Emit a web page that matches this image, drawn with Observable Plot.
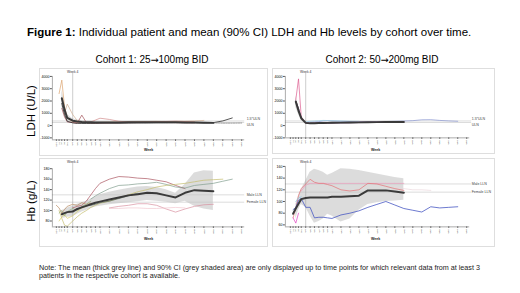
<!DOCTYPE html>
<html><head><meta charset="utf-8">
<script src="https://cdn.jsdelivr.net/npm/d3@7"></script>
<script src="https://cdn.jsdelivr.net/npm/@observablehq/plot@0.6"></script>
<style>
body{margin:0;background:#fff;font-family:"Liberation Sans",Arial,sans-serif;color:#000;}
#root{position:relative;width:520px;height:293px;overflow:hidden;background:#fff;}
.t{position:absolute;white-space:nowrap;}
.arr{font-family:"DejaVu Sans",sans-serif;font-size:0.95em;}
.panel{position:absolute;border:1px solid #dedede;box-sizing:border-box;overflow:visible;}
.panel svg{position:absolute;left:-1px;top:-1px;overflow:visible;}
.ylab{position:absolute;transform:translate(-50%,-50%) rotate(-90deg);font-size:11.5px;white-space:nowrap;}
</style>
</head><body>
<div id="root">
  <div class="t" style="left:27px;top:26px;font-size:11.5px;"><b>Figure 1:</b> Individual patient and mean (90% CI) LDH and Hb levels by cohort over time.</div>
  <div class="t" style="left:152px;top:54px;font-size:10px;transform:translateX(-50%);">Cohort 1: 25<span class="arr">→</span>100mg BID</div>
  <div class="t" style="left:382px;top:54px;font-size:10px;transform:translateX(-50%);">Cohort 2: 50<span class="arr">→</span>200mg BID</div>
  <div class="ylab" style="left:31px;top:111px;">LDH (U/L)</div>
  <div class="ylab" style="left:31px;top:201px;">Hb (g/L)</div>
  <div class="panel" id="p1" style="left:39px;top:68px;width:229px;height:88px;"></div>
  <div class="panel" id="p2" style="left:272px;top:68px;width:223px;height:86px;"></div>
  <div class="panel" id="p3" style="left:39px;top:158px;width:229px;height:89px;"></div>
  <div class="panel" id="p4" style="left:272px;top:158px;width:223px;height:89px;"></div>
  <div class="t" style="left:39px;top:264px;font-size:7.2px;line-height:7.5px;color:#222;">Note: The mean (thick grey line) and 90% CI (grey shaded area) are only displayed up to time points for which relevant data from at least 3<br>patients in the respective cohort is available.</div>
</div>
<script>
// ---- visit categories (x axis) ----
const visits = ["SCR","D1","D2","D8","D15","W4","W5","W6","W7","W8","W9","W10","W12","W16","W20","W24","W28","W32","W36","W40","W44","W48","W52","W56","W60","W64","W68"];

// ---- reference levels ----
const ldhRefs = [{label:"1.5*ULN", v:375, dy:-2.5}, {label:"ULN", v:250, dy:2.5}];
const hbRefs = [{label:"Male LLN", v:130, dy:0}, {label:"Female LLN", v:116, dy:0}];

// ---- Cohort 1 LDH ----
const c1LdhMean = [null,null,2230,1300,620,400,330,300,280,270,260,250,250,260,270,280,280,280,270,270,260,250,230,220,null,null,null];
const c1LdhLo   = [null,null,1500,800,350,250,220,210,200,200,190,180,180,190,200,210,210,200,200,190,190,180,170,170,null,null,null];
const c1LdhHi   = [null,null,2900,1900,900,560,450,420,400,380,360,340,340,350,360,370,370,370,360,350,340,330,300,280,null,null,null];
const c1LdhA = [null,2600,3700,1500,600,300,280,260,250,240,250,260,270,280,300,320,330,340,330,320,310,300,null,null,null,null,null];
const c1LdhB = [null,null,null,1000,1750,900,400,300,260,250,240,250,260,270,290,300,310,320,330,340,360,380,420,null,null,null,null];
const c1LdhC = [null,null,1400,700,300,250,200,850,250,200,190,200,210,220,230,240,250,260,250,240,230,220,null,null,null,null,null];
const c1LdhD = [null,null,null,null,null,250,230,240,260,300,450,600,500,350,300,280,300,320,340,360,330,300,null,null,null,null,null];
const c1LdhE = [null,null,1800,900,350,220,180,170,170,180,190,200,210,210,220,230,230,240,240,250,260,250,240,240,380,620,null];
const c1LdhF = [null,null,null,null,null,null,null,null,null,null,null,null,200,210,210,220,220,230,230,230,220,220,220,220,200,200,210];

// ---- Cohort 2 LDH ----
const c2LdhMean = [null,null,1950,1200,600,220,180,190,200,210,220,230,240,250,260,270,280,290,300,300,null,null,null,null,null,null,null];
const c2LdhLo   = [null,null,1500,900,420,150,130,140,150,160,170,180,190,200,210,220,230,240,250,250,null,null,null,null,null,null,null];
const c2LdhHi   = [null,null,2400,1500,800,300,240,250,260,270,280,290,300,310,320,330,340,350,350,350,null,null,null,null,null,null,null];
const c2LdhA = [null,null,2100,3800,700,200,190,200,210,220,230,240,250,260,270,270,280,280,290,290,null,null,null,null,null,null,null];
const c2LdhB = [null,null,2000,1400,600,220,180,180,190,200,200,210,220,230,240,250,250,260,270,280,null,null,null,null,null,null,null];
const c2LdhC = [null,null,null,null,null,250,280,300,320,380,400,380,350,330,320,310,320,330,350,370,400,470,480,420,380,350,null];
const c2LdhD = [null,null,null,null,null,300,350,380,400,420,410,400,380,360,350,null,null,null,null,null,null,null,null,null,null,null,null];

// ---- Cohort 1 Hb ----
const c1HbMean = [null,null,93,95,97,98,103,106,109,112,115,117,121,125,129,131,134,133,129,125,134,139,138,137,null,null,null];
const c1HbLo   = [null,null,85,86,87,88,93,97,100,104,107,108,111,113,115,117,119,118,116,113,118,108,103,100,null,null,null];
const c1HbHi   = [null,null,100,102,105,108,112,115,118,122,126,130,135,139,142,145,146,144,140,133,150,172,176,175,null,null,null];
const c1HbA = [null,null,null,null,null,105,108,110,118,130,142,152,160,165,164,162,161,158,155,148,142,null,null,null,null,null,null];
const c1HbB = [null,null,null,null,null,null,null,null,null,122,128,133,142,148,149,151,152,154,150,145,143,148,150,152,156,160,null];
const c1HbC = [null,100,85,72,70,80,88,95,100,106,110,114,118,124,130,136,140,145,148,150,152,155,158,159,160,null,null];
const c1HbD = [null,null,null,null,null,null,null,null,null,null,null,null,105,108,110,113,113,110,103,97,103,108,111,112,null,null,null];
const c1HbE = [null,null,null,null,null,null,null,107,109,110,112,115,118,123,128,133,null,null,null,null,null,null,null,null,null,null,null];
const c1HbF = [null,null,null,null,null,null,null,null,null,null,null,null,104,104,105,105,104,104,105,106,105,null,null,null,null,null,null];
const c1HbG = [110,105,95,102,108,112,110,115,112,114,null,null,null,null,null,null,null,null,null,null,null,null,null,null,null,null,null];
const c1HbH = [null,80,88,92,85,90,98,105,108,null,null,null,null,null,null,null,null,null,null,null,null,null,null,null,null,null,null];
const c1HbI = [null,95,100,90,98,104,100,108,112,118,null,null,null,null,null,null,null,null,null,null,null,null,null,null,null,null,null];

// ---- Cohort 2 Hb ----
const c2HbMean = [null,79,88,96,104,106,107,107,107,107,107,108,108,109,110,119,119,119,117,115,null,null,null,null,null,null,null];
const c2HbLo   = [null,null,70,85,95,90,75,63,66,70,78,75,65,70,85,95,98,100,101,102,null,null,null,null,null,null,null];
const c2HbHi   = [null,null,95,110,120,135,150,155,153,150,145,148,156,155,153,150,147,144,141,139,null,null,null,null,null,null,null];
const c2HbA = [null,72,88,110,122,130,138,133,131,131,129,127,120,118,120,131,130,126,122,119,null,null,null,null,null,null,null];
const c2HbB = [null,null,null,null,118,128,131,131,131,131,131,131,131,131,131,131,131,131,131,131,null,null,null,null,null,null,null];
const c2HbC = [null,86,90,102,105,90,90,72,73,73,72,71,77,80,84,90,95,100,94,88,85,82,91,89,90,91,null];
const c2HbD = [null,72,63,80,null,null,null,null,null,null,null,null,null,null,null,null,null,null,null,null,null,null,null,null,null,null,null];
const c2HbE = [null,null,100,106,108,null,null,null,null,null,null,null,null,null,null,null,null,null,null,null,null,null,null,null,null,null,null];
const c2HbF = [null,null,null,null,null,null,null,null,null,null,null,null,null,null,null,null,null,null,125,122,120,120,119,null,null,null,null];

const xDom = [0,4,5,11,26];

function makePanel(el, cfg) {
  const {width, height, mL, mB, xRange, yDomain, yRange, yTicks, lo, hi, mean, lines, refs, refLabelX} = cfg;
  const px2i = d3.scaleLinear(xRange, xDom);
  const py2v = d3.scaleLinear(yRange, yDomain);
  const axisVal = py2v(height - mB);
  const axisI = px2i(mL);
  const endI = px2i(xRange[xRange.length-1] + 3);
  const idx = visits.map((_, i) => i);
  const marks = [];
  const band = idx.map(i => ({i, lo: lo[i], hi: hi[i]})).filter(d => d.lo != null && d.hi != null);
  marks.push(Plot.areaY(band, {x: "i", y1: "lo", y2: "hi", fill: "#d6d6d6", fillOpacity: 0.85}));
  for (const r of refs) {
    marks.push(Plot.ruleY([r.v], {x1: axisI, x2: px2i(width - 22), stroke: "#c4c4c4", strokeWidth: 0.6}));
    marks.push(Plot.text([r.label], {x: px2i(refLabelX), y: r.v, dy: r.dy, text: d => d, textAnchor: "start", fontSize: 3.6, fill: "#444"}));
  }
  marks.push(Plot.ruleX([5], {y1: axisVal, y2: py2v(5), stroke: "#9a9a9a", strokeWidth: 0.5}));
  marks.push(Plot.text(["Week 4"], {x: 5, y: py2v(3), text: d => d, fontSize: 3.4, fill: "#333"}));
  for (const l of lines) {
    marks.push(Plot.line(idx.map(i => ({i, v: l.values[i]})), {x: "i", y: "v", stroke: l.color, strokeWidth: l.w || 0.7, strokeDasharray: l.dash}));
  }
  marks.push(Plot.line(idx.map(i => ({i, v: mean[i]})), {x: "i", y: "v", stroke: "#3a3a3a", strokeWidth: 2}));
  marks.push(Plot.ruleY([axisVal], {x1: axisI, x2: endI, stroke: "#555", strokeWidth: 0.5}));
  marks.push(Plot.ruleX([axisI], {y1: axisVal, y2: yTicks[yTicks.length-1], stroke: "#555", strokeWidth: 0.5}));
  marks.push(Plot.axisY({ticks: yTicks, tickFormat: d => String(d), tickSize: 2, tickPadding: 1, fontSize: 3.6, label: null, stroke: "#555"}));
  marks.push(Plot.axisX({ticks: idx, tickFormat: i => visits[i], tickSize: 1.5, tickPadding: 1, tickRotate: -90, fontSize: 2.1, label: null, stroke: "#555", fill: "#444"}));
  marks.push(Plot.text(["Week"], {x: px2i(cfg.weekX), y: py2v(height - cfg.weekDy), text: d => d, fontSize: 3.6, fontWeight: "bold", fill: "#222"}));
  const svg = Plot.plot({
    width, height,
    marginLeft: mL, marginBottom: mB, marginTop: 4, marginRight: 4,
    x: {type: "linear", domain: xDom, range: xRange},
    y: {type: "linear", domain: yDomain, range: yRange},
    style: {background: "transparent", fontFamily: "Liberation Sans, Arial, sans-serif", overflow: "visible"},
    marks
  });
  document.getElementById(el).appendChild(svg);
}

const ldhTicks = [-1000,0,1000,2000,3000,4000];

makePanel("p1", {width: 229, height: 88, mL: 13, mB: 16, xRange: [17,28,33.5,61,204], yDomain: [-1000,4000], yRange: [70,8],
  yTicks: ldhTicks, lo: c1LdhLo, hi: c1LdhHi, mean: c1LdhMean, refs: ldhRefs, refLabelX: 209, weekX: 110, weekDy: 6,
  lines: [
    {values: c1LdhA, color: "#dca36e"},
    {values: c1LdhB, color: "#cfae93"},
    {values: c1LdhC, color: "#a4525a"},
    {values: c1LdhD, color: "#d08a8a"},
    {values: c1LdhE, color: "#2a2a2a", w: 0.8},
    {values: c1LdhF, color: "#777", dash: "1.5,1"}
  ]});

makePanel("p2", {width: 223, height: 86, mL: 13, mB: 16, xRange: [18,29,33.5,60,196], yDomain: [-1000,4000], yRange: [70,8],
  yTicks: ldhTicks, lo: c2LdhLo, hi: c2LdhHi, mean: c2LdhMean, refs: ldhRefs, refLabelX: 201, weekX: 104, weekDy: 4,
  lines: [
    {values: c2LdhC, color: "#8592cf"},
    {values: c2LdhD, color: "#9fd0e3"},
    {values: c2LdhA, color: "#dc5a8e"},
    {values: c2LdhB, color: "#5a2a5e", w: 1}
  ]});

makePanel("p3", {width: 229, height: 89, mL: 13, mB: 20, xRange: [17,28,33.5,61,204], yDomain: [68,180], yRange: [69.4,10.3],
  yTicks: [80,100,120,140,160,180], lo: c1HbLo, hi: c1HbHi, mean: c1HbMean, refs: hbRefs, refLabelX: 209, weekX: 110, weekDy: 8,
  lines: [
    {values: c1HbA, color: "#a9525e"},
    {values: c1HbB, color: "#7f9d8d"},
    {values: c1HbC, color: "#c4bd6c"},
    {values: c1HbD, color: "#d88fa0"},
    {values: c1HbE, color: "#5d6d5f"},
    {values: c1HbF, color: "#f2c6cf"},
    {values: c1HbG, color: "#b88a60"},
    {values: c1HbH, color: "#d9d06c"},
    {values: c1HbI, color: "#8fae7a"}
  ]});

makePanel("p4", {width: 223, height: 89, mL: 13, mB: 20, xRange: [18,29,33.5,60,196], yDomain: [56.6,160], yRange: [69,8],
  yTicks: [60,80,100,120,140,160], lo: c2HbLo, hi: c2HbHi, mean: c2HbMean, refs: hbRefs, refLabelX: 201, weekX: 104, weekDy: 8,
  lines: [
    {values: c2HbF, color: "#ead6dc"},
    {values: c2HbB, color: "#ee9cbc"},
    {values: c2HbA, color: "#e46f74"},
    {values: c2HbC, color: "#4656c2", w: 0.8},
    {values: c2HbD, color: "#e040c0"},
    {values: c2HbE, color: "#86c8e6"}
  ]});
</script>
</body></html>
